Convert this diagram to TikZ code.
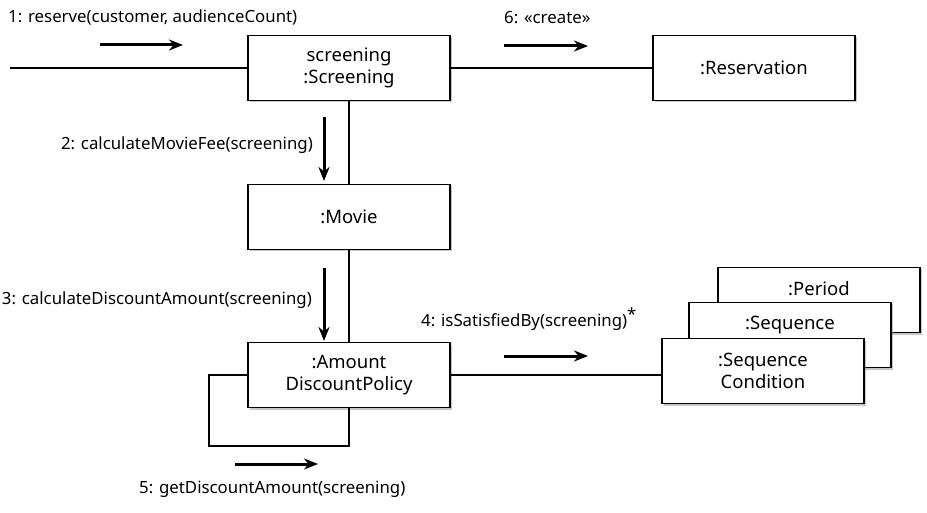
\documentclass[tikz,border=0pt]{standalone}
\usepackage{fontspec}
\setmainfont{Noto Sans}
\usetikzlibrary{arrows.meta,shadows}

\newcommand*{\boxw}{202pt}
\newcommand*{\boxh}{65pt}

\begin{document}
\begin{tikzpicture}
[
	x=1pt, y=-1pt,
	font=\fontsize{16.8}{19}\selectfont,
	objbox/.style={draw,line width=1.6pt,fill=white,align=center,minimum width=\boxw,minimum height=\boxh,
		font=\fontsize{18.5}{22}\selectfont,
		drop shadow={shadow xshift=2pt,shadow yshift=-2pt,opacity=0.45,fill=gray}},
	behind/.style={text depth=24pt},
	link/.style={line width=1.5pt},
	msg/.style={-{Stealth[length=14pt,width=11pt]},line width=3pt},
	lbl/.style={inner sep=0pt}
]
	\useasboundingbox (0,0) rectangle (927,513);

	% objects
	\node[objbox] (screening) at (349,68) {screening\\:Screening};
	\node[objbox] (reservation) at (754,68) {:Reservation};
	\node[objbox] (movie) at (349,217) {:Movie};
	\node[objbox] (amount) at (349,375) {:Amount\\DiscountPolicy};
	\node[objbox,behind] (period) at (819,300) {:Period};
	\node[objbox,behind] (sequence) at (790,335) {:Sequence};
	\node[objbox] (seqcond) at (763,371) {:Sequence\\Condition};

	% links
	\coordinate (caller) at (10,68);
	\coordinate (loop) at (209,446);
	\draw[link] (caller) -- (screening.west);
	\draw[link] (screening.east) -- (reservation.west);
	\draw[link] (screening.south) -- (movie.north);
	\draw[link] (movie.south) -- (amount.north);
	\draw[link] (amount.east) -- (amount.east -| seqcond.west);
	\draw[link] (amount.west) -| (loop) -| (amount.south);

	% messages
	\draw[msg] (100,45) -- (183,45);
	\node[lbl,anchor=west] at (8,17) {1: reserve(customer, audienceCount)};

	\draw[msg] (324,117) -- (324,181);
	\node[lbl,anchor=east] at (313,145) {2: calculateMovieFee(screening)};

	\draw[msg] (324,268) -- (324,341);
	\node[lbl,anchor=east] at (312,300) {3: calculateDiscountAmount(screening)};

	\draw[msg] (504,356) -- (588,356);
	\node[lbl,anchor=west] at (421,319) {4: isSatisfiedBy(screening)\raisebox{6pt}{*}};

	\draw[msg] (235,464) -- (318,464);
	\node[lbl,anchor=west] at (139,489) {5: getDiscountAmount(screening)};

	\draw[msg] (504,46) -- (588,46);
	\node[lbl,anchor=west] at (504,18) {6: «create»};

\end{tikzpicture}
\end{document}
